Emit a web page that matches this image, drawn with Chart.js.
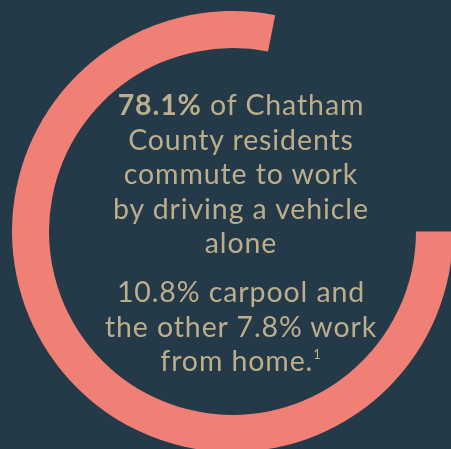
<!DOCTYPE html>
<html lang="en">
<head>
  <meta charset="UTF-8" />
  <title>Chatham County commute</title>
  <script src="https://cdn.jsdelivr.net/npm/chart.js"></script>
  <style>
    html, body {
      margin: 0;
      padding: 0;
      width: 451px;
      height: 449px;
      overflow: hidden;
      background: #243a48;
    }
    #wrap {
      position: relative;
      width: 451px;
      height: 449px;
    }
    #anillo {
      position: absolute;
      left: 12px;
      top: 10.5px;
    }
    .texto {
      position: absolute;
      left: 91px;
      width: 300px;
      text-align: center;
      font-family: Lato, 'Open Sans', sans-serif;
      font-size: 28.5px;
      letter-spacing: 0.9px;
      line-height: 34.5px;
      color: #bcae8c;
    }
    #t1 { top: 87px; }
    #t2 { top: 274px; }
    b { font-weight: 700; }
    sup { font-size: 13px; vertical-align: 0; position: relative; top: -12px; }
  </style>
</head>
<body>
  <div id="wrap">
    <canvas id="anillo" width="441" height="441"></canvas>
    <div class="texto" id="t1"><b>78.1%</b> of Chatham<br>County residents<br>commute to work<br>by driving a vehicle<br>alone</div>
    <div class="texto" id="t2">10.8% carpool and<br>the other 7.8% work<br>from home.<sup>1</sup></div>
  </div>

  <script>
    // valores
    const categorias = ["Drive alone", "Other"];
    const valores = [78.1, 21.9];
    const colores = ["#f08075", "rgba(0,0,0,0)"];

    const ctx = document.getElementById("anillo").getContext("2d");
    new Chart(ctx, {
      type: "doughnut",
      data: {
        labels: categorias,
        datasets: [{
          data: valores,
          backgroundColor: colores,
          borderWidth: 0
        }]
      },
      options: {
        responsive: false,
        animation: false,
        rotation: 90,
        cutout: "83.2%",
        layout: { padding: 0 },
        plugins: {
          legend: { display: false },
          tooltip: { enabled: false }
        }
      }
    });
  </script>
</body>
</html>
